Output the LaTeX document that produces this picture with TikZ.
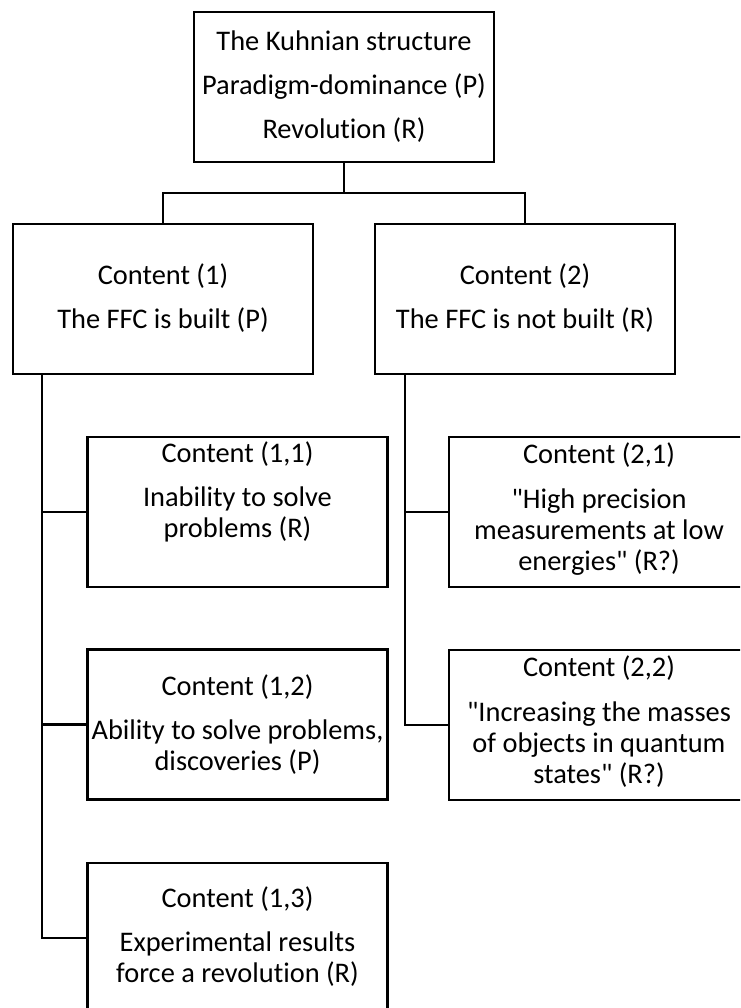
\documentclass[tikz,border=0pt]{standalone}
\usepackage{fontspec}
\setmainfont{Carlito}[Ligatures={TeXOff,NoCommon}]
\usetikzlibrary{positioning}

\begin{document}
\begin{tikzpicture}[x=0.5pt, y=-0.5pt,
    box/.style={rectangle, draw, line width=1.35pt, minimum width=150pt, minimum height=75pt, inner sep=0pt},
    txt/.style={align=center, anchor=base, inner sep=0pt, font=\fontsize{14.2pt}{15.5pt}\selectfont},
    link/.style={line width=1.35pt}
]
\useasboundingbox (0,0) rectangle (740,1008);
\clip (0,0) rectangle (740,1008);

% Top level
\node[box] (kuhn) at (344,87) {};
\node[txt] (kuhnt) at (344,138) {The Kuhnian structure\\[6.5pt]Paradigm-dominance (P)\\[6.5pt]Revolution (R)};

% Contents (1) and (2)
\node[box] (c1) at (163,299) {};
\node[txt] (c1t) at (163,328) {Content (1)\\[6.5pt]The FFC is built (P)};
\node[box] (c2) at (525,299) {};
\node[txt] (c2t) at (525,328) {Content (2)\\[6.5pt]The FFC is not built (R)};

\coordinate (split) at (344,193);
\draw[link] (kuhn.south) -- (split);
\draw[link] (c1.north) |- (split) -| (c2.north);

% Left branch
\node[box] (c11) at (237.5,512) {};
\node[txt] (c11t) at (237.5,537) {Content (1,1)\\[6.5pt]Inability to solve\\problems (R)};
\node[box] (c12) at (237.5,724.5) {};
\node[txt] (c12t) at (237.5,770) {Content (1,2)\\[6.5pt]Ability to solve problems,\\discoveries (P)};
\node[box] (c13) at (237.5,938) {};
\node[txt] (c13t) at (237.5,982) {Content (1,3)\\[6.5pt]Experimental results\\force a revolution (R)};

\coordinate (bus1) at (42,374);
\draw[link] (bus1) |- (c11.west);
\draw[link] (bus1) |- (c12.west);
\draw[link] (bus1) |- (c13.west);

% Right branch
\node[box] (c21) at (599,512) {};
\node[txt] (c21t) at (599,570) {Content (2,1)\\[7pt]"High precision\\measurements at low\\energies" (R?)};
\node[box] (c22) at (599,725) {};
\node[txt] (c22t) at (599,783) {Content (2,2)\\[7pt]"Increasing the masses\\of objects in quantum\\states" (R?)};

\coordinate (bus2) at (405,374);
\draw[link] (bus2) |- (c21.west);
\draw[link] (bus2) |- (c22.west);

\end{tikzpicture}
\end{document}
